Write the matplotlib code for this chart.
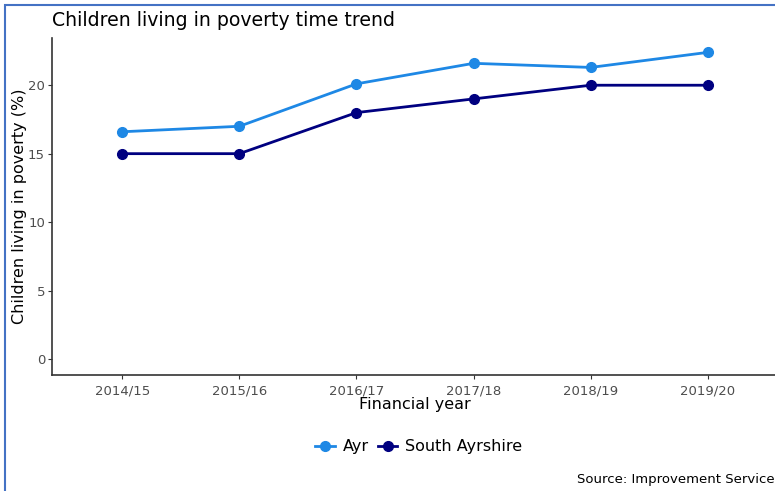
import matplotlib
matplotlib.use("Agg")
import matplotlib.pyplot as plt
from matplotlib.patches import Rectangle
from matplotlib.lines import Line2D

years = ["2014/15", "2015/16", "2016/17", "2017/18", "2018/19", "2019/20"]
ayr = [16.6, 17.0, 20.1, 21.6, 21.3, 22.4]
south_ayrshire = [15, 15, 18, 19, 20, 20]
series_names = ["Ayr", "South Ayrshire"]
colors = ["#1E88E5", "#000080"]

W, H = 775, 491
fig = plt.figure(figsize=(W/100, H/100), dpi=100)
fig.patch.set_facecolor("white")

# border (cropped at right/bottom)
fig.add_artist(Rectangle((4.5/W, -0.1), 1.2, 1 - 4.5/H + 0.1, transform=fig.transFigure,
                         fill=False, edgecolor="#4472C4", linewidth=1.5))

left, right, bottom, top = 52, 778, 375, 38
ax = fig.add_axes([left/W, 1 - bottom/H, (right-left)/W, (bottom-top)/H])
x = list(range(len(years)))
for vals, name, c in zip([ayr, south_ayrshire], series_names, colors):
    ax.plot(x, vals, color=c, lw=2, marker="o", ms=7, label=name)

ax.set_xlim(-0.6, 5.6)
ax.set_ylim(-1.17, 23.45)
ax.set_xticks(x)
ax.set_xticklabels(years)
ax.set_yticks([0, 5, 10, 15, 20])
ax.tick_params(axis="both", colors="#333333", labelcolor="#4D4D4D", labelsize=9.5, length=3, width=0.8)
ax.tick_params(axis="y", pad=2)
for s in ["top", "right"]:
    ax.spines[s].set_visible(False)
for s in ["left", "bottom"]:
    ax.spines[s].set_color("#333333")
    ax.spines[s].set_linewidth(1.2)
ax.set_xlabel("Financial year", fontsize=11.5, labelpad=0)
ax.set_ylabel("Children living in poverty (%)", fontsize=11.5)
ax.yaxis.set_label_coords((27 - left) / (right - left), 0.5)

fig.text(52/W, 1 - 20/H, "Children living in poverty time trend", fontsize=13.6, va="center", ha="left")

handles = [Line2D([0], [0], color=c, lw=2, marker="o", ms=7) for c in colors]
fig.legend(handles, series_names, loc="center", bbox_to_anchor=(419/W, 1 - 447/H), ncol=2,
           frameon=False, fontsize=11.5, handlelength=1.2, handletextpad=0.5, columnspacing=0.6)

fig.text(577/W, 1 - 479/H, "Source: Improvement Service", fontsize=9.5, va="center", ha="left")

fig.savefig("out.png", dpi=100)
